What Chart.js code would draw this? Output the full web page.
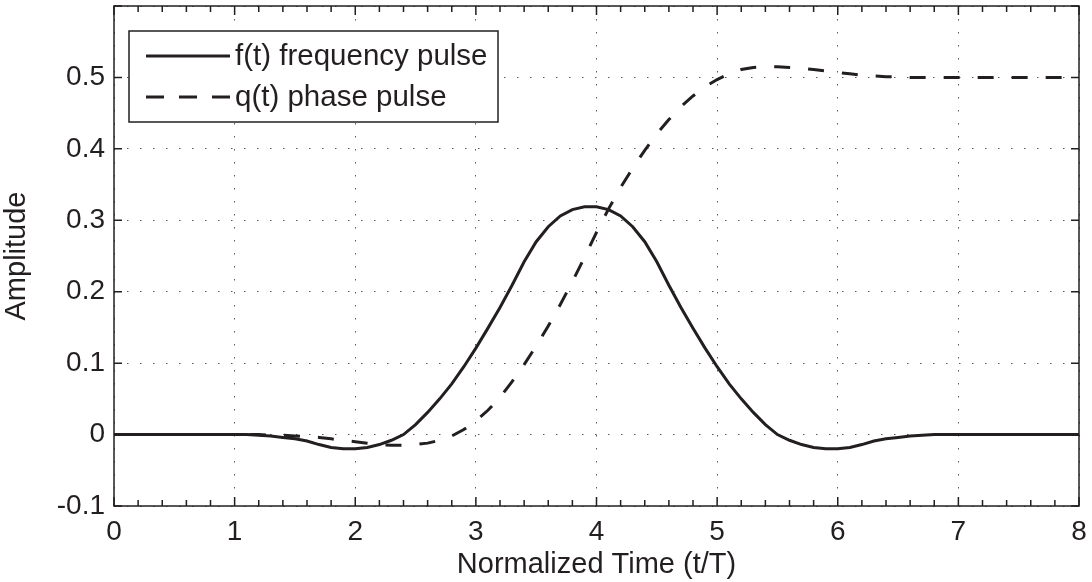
<!DOCTYPE html>
<html>
<head>
<meta charset="utf-8">
<script src="https://cdn.jsdelivr.net/npm/chart.js@4"></script>
<style>
  html, body { margin: 0; padding: 0; background: #fff; }
</style>
</head>
<body>
<canvas id="pulseChart" width="1092" height="582"></canvas>
<script>
// normalized time t/T
const times = [
  0.0, 0.1, 0.2, 0.3, 0.4, 0.5, 0.6, 0.7, 0.8, 0.9,
  1.0, 1.1, 1.2, 1.3, 1.4, 1.5, 1.6, 1.7, 1.8, 1.9,
  2.0, 2.1, 2.2, 2.3, 2.4, 2.5, 2.6, 2.7, 2.8, 2.9,
  3.0, 3.1, 3.2, 3.3, 3.4, 3.5, 3.6, 3.7, 3.8, 3.9,
  4.0, 4.1, 4.2, 4.3, 4.4, 4.5, 4.6, 4.7, 4.8, 4.9,
  5.0, 5.1, 5.2, 5.3, 5.4, 5.5, 5.6, 5.7, 5.8, 5.9,
  6.0, 6.1, 6.2, 6.3, 6.4, 6.5, 6.6, 6.7, 6.8, 6.9,
  7.0, 7.1, 7.2, 7.3, 7.4, 7.5, 7.6, 7.7, 7.8, 7.9,
  8.0
];

// f(t) frequency pulse
const freqPulse = [
  0, 0, 0, 0, 0, 0, 0, 0, 0, 0,
  0, 0, -0.001, -0.002, -0.004, -0.006, -0.009, -0.014, -0.018, -0.020,
  -0.020, -0.018, -0.014, -0.008, 0.000, 0.014, 0.031, 0.050, 0.071, 0.095,
  0.121, 0.149, 0.178, 0.209, 0.242, 0.270, 0.291, 0.306, 0.315, 0.319,
  0.319, 0.315, 0.306, 0.291, 0.270, 0.242, 0.209, 0.178, 0.149, 0.121,
  0.095, 0.071, 0.050, 0.031, 0.014, 0.000, -0.008, -0.014, -0.018, -0.020,
  -0.020, -0.018, -0.014, -0.009, -0.006, -0.004, -0.002, -0.001, 0, 0,
  0, 0, 0, 0, 0, 0, 0, 0, 0, 0,
  0
];

// q(t) phase pulse
const phasePulse = [
  0, 0, 0, 0, 0, 0, 0, 0, 0, 0,
  0, 0, 0, -0.001, -0.001, -0.002, -0.003, -0.004, -0.006, -0.008,
  -0.010, -0.012, -0.014, -0.015, -0.015, -0.014, -0.012, -0.008, -0.002, 0.007,
  0.019, 0.034, 0.052, 0.074, 0.098, 0.124, 0.152, 0.182, 0.214, 0.248,
  0.283, 0.316, 0.346, 0.373, 0.398, 0.421, 0.441, 0.459, 0.474, 0.487,
  0.497, 0.505, 0.511, 0.514, 0.515, 0.515, 0.514, 0.513, 0.511, 0.509,
  0.507, 0.505, 0.503, 0.502, 0.501, 0.501, 0.5, 0.5, 0.5, 0.5,
  0.5, 0.5, 0.5, 0.5, 0.5, 0.5, 0.5, 0.5, 0.5, 0.5,
  0.5
];

const xTickLabels = ["0", "1", "2", "3", "4", "5", "6", "7", "8"];
const yTickLabels = ["-0.1", "0", "0.1", "0.2", "0.3", "0.4", "0.5", ""];

const ink = "#231f20";
const family = "'Liberation Sans', Arial, Helvetica, sans-serif";

// box, inward ticks and legend drawn over the plot
const framePlugin = {
  id: "frame",
  afterDraw(chart) {
    const { ctx, chartArea: a, scales: { x, y } } = chart;
    ctx.save();
    ctx.strokeStyle = ink;
    ctx.lineWidth = 1.5;
    ctx.setLineDash([]);
    ctx.beginPath();
    for (let i = 0; i <= 40; i++) {
      const px = x.getPixelForValue(i * 0.2);
      const len = i % 5 === 0 ? 9 : 6;
      ctx.moveTo(px, a.bottom); ctx.lineTo(px, a.bottom - len);
      ctx.moveTo(px, a.top); ctx.lineTo(px, a.top + len);
    }
    y.ticks.forEach(t => {
      const py = y.getPixelForValue(t.value);
      ctx.moveTo(a.left, py); ctx.lineTo(a.left + 8, py);
      ctx.moveTo(a.right, py); ctx.lineTo(a.right - 8, py);
    });
    ctx.stroke();
    ctx.strokeRect(a.left, a.top, a.right - a.left, a.bottom - a.top);

    // legend
    const bx = a.left + 15, by = a.top + 25, bw = 369, bh = 91;
    ctx.fillStyle = "#fff";
    ctx.fillRect(bx, by, bw, bh);
    ctx.strokeRect(bx, by, bw, bh);
    ctx.font = "29.5px " + family;
    ctx.textBaseline = "middle";
    chart.data.datasets.forEach((ds, i) => {
      const ry = by + 25 + i * 41;
      ctx.lineWidth = 3;
      ctx.setLineDash(ds.borderDash && ds.borderDash.length ? [18, 15] : []);
      ctx.beginPath();
      ctx.moveTo(bx + 17, ry); ctx.lineTo(bx + 101, ry);
      ctx.stroke();
      ctx.fillStyle = ink;
      ctx.fillText(ds.label, bx + 106, ry + 1);
    });
    ctx.restore();
  }
};

new Chart(document.getElementById("pulseChart"), {
  type: "line",
  data: {
    datasets: [
      {
        label: "f(t) frequency pulse",
        data: times.map((t, i) => ({ x: t, y: freqPulse[i] })),
        borderColor: ink,
        borderWidth: 3,
        pointRadius: 0,
        tension: 0
      },
      {
        label: "q(t) phase pulse",
        data: times.map((t, i) => ({ x: t, y: phasePulse[i] })),
        borderColor: ink,
        borderWidth: 3,
        borderDash: [16, 18],
        pointRadius: 0,
        tension: 0
      }
    ]
  },
  options: {
    responsive: false,
    animation: false,
    devicePixelRatio: 1,
    layout: { padding: { left: 0, right: 13, top: 6, bottom: 0 } },
    plugins: { legend: { display: false }, tooltip: { enabled: false } },
    scales: {
      x: {
        type: "linear",
        min: 0,
        max: 8,
        afterFit: s => { s.height = 76; s.paddingLeft = 0; s.paddingRight = 0; },
        ticks: {
          stepSize: 1,
          padding: 9,
          color: ink,
          font: { family, size: 28 },
          maxRotation: 0,
          callback: (v, i) => xTickLabels[i]
        },
        grid: { color: "rgba(35,31,32,0.75)", lineWidth: 1, drawTicks: false },
        border: { display: false, dash: [1.5, 11.5] },
        title: {
          display: true,
          text: "Normalized Time (t/T)",
          color: ink,
          font: { family, size: 29 },
          padding: { top: 0, bottom: 0 }
        }
      },
      y: {
        min: -0.1,
        max: 0.6,
        afterFit: s => { s.width = 114; s.paddingTop = 0; s.paddingBottom = 0; },
        ticks: {
          stepSize: 0.1,
          padding: 9,
          color: ink,
          font: { family, size: 28 },
          callback: (v, i) => yTickLabels[i]
        },
        grid: { color: "rgba(35,31,32,0.75)", lineWidth: 1, drawTicks: false },
        border: { display: false, dash: [1.5, 11.5] },
        title: {
          display: true,
          text: "Amplitude",
          color: ink,
          font: { family, size: 29 },
          padding: { top: 0, bottom: 0 }
        }
      }
    }
  },
  plugins: [framePlugin]
});
</script>
</body>
</html>
